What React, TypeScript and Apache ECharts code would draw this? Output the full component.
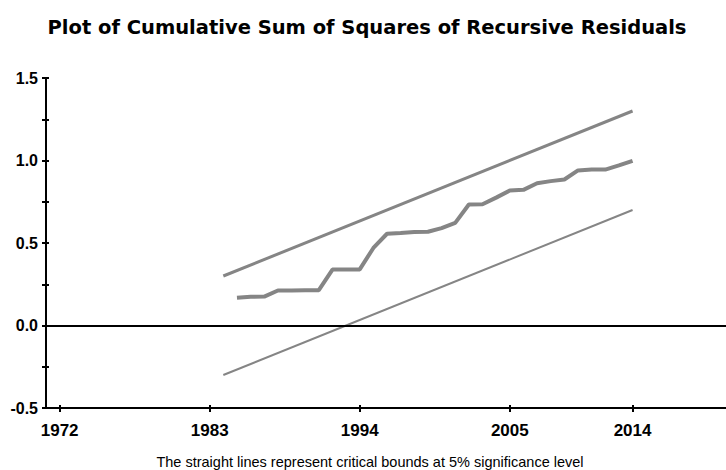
import React, { useEffect, useRef } from "react";
import * as echarts from "echarts";

const titleText = "Plot of Cumulative Sum of Squares of Recursive Residuals";
const captionText = "The straight lines represent critical bounds at 5% significance level";

const years = [
  1985, 1986, 1987, 1988, 1989, 1990, 1991, 1992, 1993, 1994,
  1995, 1996, 1997, 1998, 1999, 2000, 2001, 2002, 2003, 2004,
  2005, 2006, 2007, 2008, 2009, 2010, 2011, 2012, 2013, 2014,
];
const cusumsq = [
  0.168, 0.174, 0.175, 0.212, 0.212, 0.213, 0.214, 0.339, 0.34, 0.34,
  0.47, 0.556, 0.56, 0.566, 0.568, 0.59, 0.622, 0.733, 0.735, 0.775,
  0.818, 0.822, 0.862, 0.875, 0.885, 0.94, 0.945, 0.945, 0.97, 0.998,
];
const boundYears = [1984, 2014];
const upperBound = [0.3, 1.3];
const lowerBound = [-0.3, 0.7];
const xTickYears = [1972, 1983, 1994, 2005, 2014];
const yTicks = [-0.5, -0.25, 0, 0.25, 0.5, 0.75, 1.0, 1.25, 1.5];

const FONT = "'Liberation Sans', Arial, sans-serif";
const TITLE_FONT = "'DejaVu Sans', Verdana, sans-serif";

export default function App() {
  const ref = useRef<HTMLDivElement>(null);
  useEffect(() => {
    if (!ref.current) return;
    const chart = echarts.init(ref.current, null, { renderer: "svg" });
    const axisLineStyle = { color: "#000", width: 2 };
    const tickStyle = { color: "#000", width: 2 };
    const yBase = {
      type: "value" as const,
      min: yTicks[0],
      max: yTicks[yTicks.length - 1],
      interval: 0.25,
      splitLine: { show: false },
      axisLine: { show: true, lineStyle: axisLineStyle },
    };
    const xBase = {
      type: "value" as const,
      min: 1971,
      max: 2020.85,
      position: "bottom" as const,
      splitLine: { show: false },
      axisLine: { show: true, onZero: false, lineStyle: axisLineStyle },
    };
    chart.setOption({
      animation: false,
      backgroundColor: "#fff",
      title: [
        {
          text: titleText,
          left: 362,
          textAlign: "center",
          top: 12,
          textStyle: { fontFamily: TITLE_FONT, fontWeight: "bold", fontSize: 19.5, color: "#000" },
        },
        {
          text: captionText,
          left: 365,
          textAlign: "center",
          top: 449,
          textStyle: { fontFamily: FONT, fontWeight: "normal", fontSize: 14.5, color: "#000" },
        },
      ],
      grid: { left: 46, right: 0, top: 78, bottom: 62 },
      xAxis: [
        {
          ...xBase,
          axisTick: { show: true, length: 4, lineStyle: tickStyle, customValues: xTickYears },
          axisLabel: {
            customValues: xTickYears,
            margin: 14,
            fontFamily: FONT,
            fontWeight: "bold",
            fontSize: 17,
            color: "#000",
            formatter: (v: number) => String(v),
          },
        },
        {
          ...xBase,
          axisTick: { show: true, inside: true, length: 3, lineStyle: tickStyle, customValues: xTickYears },
          axisLabel: { show: false },
        },
      ],
      yAxis: [
        {
          ...yBase,
          axisTick: { show: true, length: 4, lineStyle: tickStyle },
          axisLabel: {
            margin: 8,
            fontFamily: FONT,
            fontWeight: "bold",
            fontSize: 16,
            color: "#000",
            formatter: (v: number) => (Math.abs((v * 2) % 1) < 1e-9 ? v.toFixed(1) : ""),
          },
        },
        {
          ...yBase,
          position: "left",
          axisTick: { show: true, inside: true, length: 3, lineStyle: tickStyle },
          axisLabel: { show: false },
        },
      ],
      series: [
        {
          type: "line",
          name: "Upper bound",
          data: boundYears.map((y, i) => [y, upperBound[i]]),
          showSymbol: false,
          symbol: "none",
          lineStyle: { color: "#858585", width: 3 },
        },
        {
          type: "line",
          name: "Lower bound",
          data: boundYears.map((y, i) => [y, lowerBound[i]]),
          showSymbol: false,
          symbol: "none",
          lineStyle: { color: "#858585", width: 2 },
        },
        {
          type: "line",
          name: "CUSUM of squares",
          data: years.map((y, i) => [y, cusumsq[i]]),
          showSymbol: false,
          symbol: "none",
          lineStyle: { color: "#858585", width: 4 },
          markLine: {
            silent: true,
            symbol: "none",
            label: { show: false },
            lineStyle: { color: "#000", width: 2, type: "solid" },
            data: [{ yAxis: 0 }],
          },
        },
      ],
    });
    return () => chart.dispose();
  }, []);
  return (
    <div
      ref={ref}
      style={{ position: "fixed", left: 0, top: 0, width: 726, height: 470, background: "#fff" }}
    />
  );
}
